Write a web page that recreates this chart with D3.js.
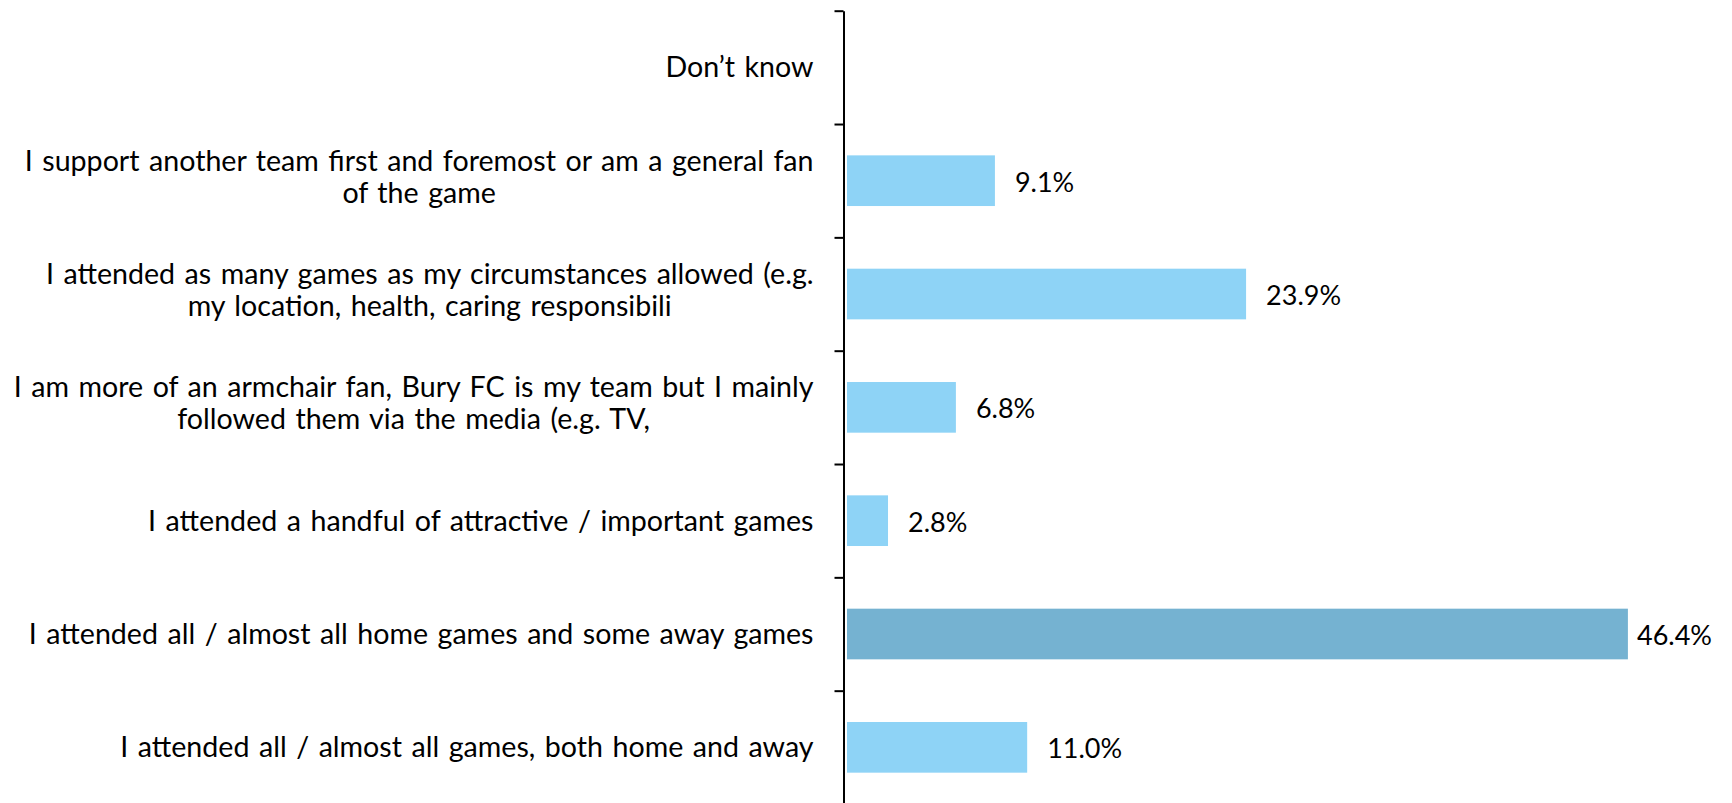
<!DOCTYPE html>
<html>
<head>
<meta charset="utf-8">
<script src="https://cdn.jsdelivr.net/npm/d3@7"></script>
<style>
  html, body { margin: 0; padding: 0; background: #fff; }
  svg { display: block; }
  text { font-variant-ligatures: none; font-feature-settings: "liga" 0, "dlig" 0; }
</style>
</head>
<body>
<svg id="chart" width="1732" height="803"></svg>
<script>
// ---- data ----
const categories = [
  "Don’t know",
  "I support another team first and foremost or am a general fan of the game",
  "I attended as many games as my circumstances allowed (e.g. my location, health, caring responsibili",
  "I am more of an armchair fan, Bury FC is my team but I mainly followed them via the media (e.g. TV,",
  "I attended a handful of attractive / important games",
  "I attended all / almost all home games and some away games",
  "I attended all / almost all games, both home and away"
];
const labelLines = [
  ["Don’t know"],
  ["I support another team first and foremost or am a general fan", "of the game"],
  ["I attended as many games as my circumstances allowed (e.g.", "my location, health, caring responsibili"],
  ["I am more of an armchair fan, Bury FC is my team but I mainly", "followed them via the media (e.g. TV,"],
  ["I attended a handful of attractive / important games"],
  ["I attended all / almost all home games and some away games"],
  ["I attended all / almost all games, both home and away"]
];
const values = [null, 9.1, 23.9, 6.8, 2.8, 46.4, 11.0];
const highlight = [false, false, false, false, false, true, false];

// ---- layout ----
const W = 1732, H = 803;
const svg = d3.select("#chart");
const plotTop = 10.7, plotBottom = 804;
const xZero = 840.5, pxPerUnit = 16.97;
const axisX = 843.5;
const plotRight = 1712;
const labelRight = 813.5;
const catFont = "28.6px Lato, 'Open Sans', sans-serif";
const valFont = "27px Lato, 'Open Sans', sans-serif";
const lightColor = "#8ED3F6";
const darkColor = "#75B2D1";

const x = d3.scaleLinear().domain([0, 50]).range([xZero, xZero + 50 * pxPerUnit]);
const y = d3.scaleBand().domain(d3.range(categories.length)).range([plotTop, plotBottom]).paddingInner(0.553).paddingOuter(0.2765);
const yEdge = d3.scaleLinear().domain([0, categories.length]).range([plotTop, plotBottom]);

const barStart = axisX + 3.5;

// bars
svg.append("g").selectAll("rect")
  .data(values.map((v, i) => ({v, i})).filter(d => d.v != null))
  .join("rect")
  .attr("x", barStart)
  .attr("y", d => y(d.i))
  .attr("width", d => Math.max(0, x(d.v) - barStart))
  .attr("height", y.bandwidth())
  .attr("fill", d => highlight[d.i] ? darkColor : lightColor);

// value labels
const vl = svg.append("g").selectAll("text")
  .data(values.map((v, i) => ({v, i})).filter(d => d.v != null))
  .join("text")
  .style("font", valFont)
  .attr("fill", "#000")
  .attr("y", d => y(d.i) + y.bandwidth() / 2 + 11)
  .text(d => d.v.toFixed(1) + "%");
vl.each(function(d) {
  const w = this.getComputedTextLength();
  let tx = x(d.v) + 20;
  if (tx + w > plotRight) tx = plotRight - w;
  d3.select(this).attr("x", tx);
});

// category labels
const lineH = 32;
const cg = svg.append("g");
labelLines.forEach((lines, i) => {
  const cy = y(i) + y.bandwidth() / 2;
  const g = cg.append("g");
  const texts = lines.map((ln, k) => {
    const baseline = lines.length === 1 ? cy + 10 : cy - 10 + k * lineH;
    return g.append("text").style("font", catFont).style("word-spacing", "2.2px")
      .attr("fill", "#000").attr("y", baseline).text(ln);
  });
  const widths = texts.map(t => t.node().getComputedTextLength());
  const maxW = d3.max(widths);
  const centerX = labelRight - maxW / 2;
  texts.forEach(t => t.attr("x", centerX).attr("text-anchor", "middle"));
});

// axis
const axis = d3.axisLeft(yEdge)
  .tickValues(d3.range(0, categories.length + 1))
  .tickFormat("")
  .tickSizeInner(9)
  .tickSizeOuter(0);
const ag = svg.append("g").attr("transform", `translate(${axisX},0)`).call(axis);
ag.select(".domain").attr("stroke", "#000").attr("stroke-width", 2);
ag.selectAll(".tick line").attr("stroke", "#000").attr("stroke-width", 2);
</script>
</body>
</html>
